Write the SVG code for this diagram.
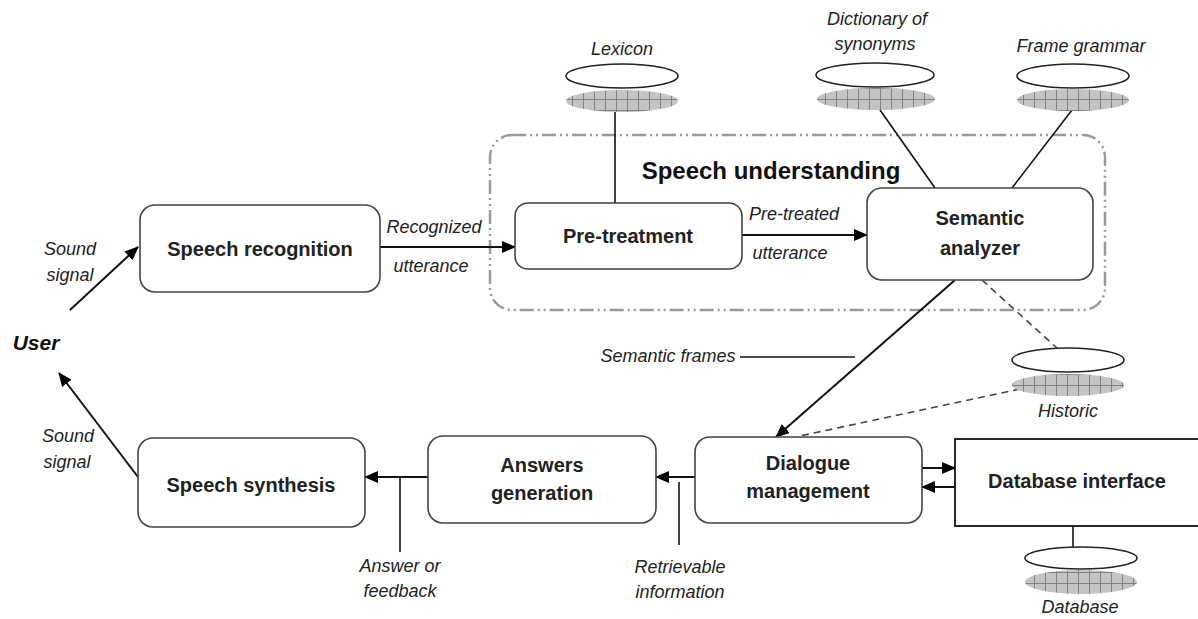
<svg xmlns="http://www.w3.org/2000/svg" width="1198" height="619" viewBox="0 0 1198 619">
<defs>
<pattern id="grid" width="11" height="11" patternUnits="userSpaceOnUse">
<rect width="11" height="11" fill="#c4c4c4"/>
<path d="M0 0.5H11M0.5 0V11" stroke="#7a7a7a" stroke-width="0.9"/>
</pattern>
<marker id="ah" markerWidth="14" markerHeight="12" refX="13" refY="6" orient="auto" markerUnits="userSpaceOnUse">
<path d="M0 0L14 6L0 12Z" fill="#000"/>
</marker>
</defs>
<style>
.box{fill:#fff;stroke:#444;stroke-width:1.6}
.lbl{font-family:"Liberation Sans",Arial,sans-serif;font-weight:bold;font-size:20px;fill:#222;text-anchor:middle}
.it{font-family:"Liberation Sans",Arial,sans-serif;font-style:italic;font-size:18px;fill:#222;text-anchor:middle}
.ln{stroke:#111;stroke-width:1.6;fill:none}
.arr{stroke:#111;stroke-width:2;fill:none;marker-end:url(#ah)}
.dash{stroke:#444;stroke-width:1.6;fill:none;stroke-dasharray:7 5}
.etop{fill:#fff;stroke:#222;stroke-width:1.6}
.ebot{fill:url(#grid);stroke:none}
</style>

<g id="speech-understanding">
<rect x="490" y="135" width="615" height="175" rx="22" fill="none" stroke="#999" stroke-width="2.5" stroke-dasharray="14 4 2 4 2 4"/>
<text x="771" y="179" font-family="'Liberation Sans',Arial,sans-serif" font-weight="bold" font-size="24" fill="#111" text-anchor="middle">Speech understanding</text>
</g>

<g id="connectors">
<line class="arr" x1="70" y1="310" x2="138" y2="247"/>
<line class="arr" x1="138" y1="477" x2="59" y2="373"/>
<line class="arr" x1="380" y1="247" x2="515" y2="247"/>
<line class="arr" x1="742" y1="235" x2="867" y2="235"/>
<line class="ln" x1="615" y1="112" x2="615" y2="203" stroke-width="1.3"/>
<line class="ln" x1="880" y1="110" x2="935" y2="188" stroke-width="1.3"/>
<line class="ln" x1="1072" y1="110" x2="1012" y2="188" stroke-width="1.3"/>
<line class="arr" x1="955" y1="280" x2="776" y2="437"/>
<line class="ln" x1="740" y1="357" x2="855" y2="357" stroke-width="1.3"/>
<line class="dash" x1="982" y1="280" x2="1058" y2="349"/>
<line class="dash" x1="1020" y1="389" x2="800" y2="436"/>
<line class="arr" x1="922" y1="468" x2="955" y2="468"/>
<line class="arr" x1="955" y1="487" x2="922" y2="487"/>
<line class="ln" x1="1073" y1="526" x2="1073" y2="547" stroke="#555" stroke-width="1.3"/>
<line class="arr" x1="695" y1="477" x2="656" y2="477"/>
<line class="ln" x1="679" y1="482" x2="679" y2="545" stroke-width="1.3"/>
<line class="arr" x1="428" y1="477" x2="365" y2="477"/>
<line class="ln" x1="400" y1="477" x2="400" y2="552" stroke-width="1.3"/>
</g>

<g id="user">
<text x="36" y="350" font-family="'Liberation Sans',Arial,sans-serif" font-weight="bold" font-style="italic" font-size="21" fill="#111" text-anchor="middle">User</text>
</g>
<g id="label-sound-in">
<text class="it" x="70" y="255">Sound</text>
<text class="it" x="70" y="281">signal</text>
</g>
<g id="label-sound-out">
<text class="it" x="68" y="442">Sound</text>
<text class="it" x="67" y="468">signal</text>
</g>

<g id="speech-recognition">
<rect class="box" x="140" y="205" width="240" height="87" rx="15"/>
<text class="lbl" x="260" y="256">Speech recognition</text>
</g>
<g id="label-recognized">
<text class="it" x="434" y="233">Recognized</text>
<text class="it" x="431" y="272">utterance</text>
</g>

<g id="pre-treatment">
<rect class="box" x="515" y="203" width="227" height="66" rx="13"/>
<text class="lbl" x="628" y="243">Pre-treatment</text>
</g>
<g id="label-pretreated">
<text class="it" x="794" y="220">Pre-treated</text>
<text class="it" x="790" y="259">utterance</text>
</g>

<g id="semantic-analyzer">
<rect class="box" x="867" y="188" width="226" height="92" rx="15"/>
<text class="lbl" x="980" y="225">Semantic</text>
<text class="lbl" x="980" y="255">analyzer</text>
</g>

<g id="lexicon">
<text class="it" x="622" y="55">Lexicon</text>
<ellipse class="ebot" cx="622" cy="101" rx="56" ry="11"/>
<ellipse class="etop" cx="622" cy="76" rx="56" ry="12"/>
</g>

<g id="dictionary">
<text class="it" x="877" y="25">Dictionary of</text>
<text class="it" x="875" y="50">synonyms</text>
<ellipse class="ebot" cx="876" cy="99" rx="59" ry="11"/>
<ellipse class="etop" cx="875" cy="75" rx="59" ry="12"/>
</g>

<g id="frame-grammar">
<text class="it" x="1081" y="52">Frame grammar</text>
<ellipse class="ebot" cx="1073" cy="100" rx="56" ry="11"/>
<ellipse class="etop" cx="1073" cy="76" rx="56" ry="12"/>
</g>

<g id="semantic-frames-label">
<text class="it" x="668" y="362">Semantic frames</text>
</g>

<g id="historic">
<ellipse class="ebot" cx="1068" cy="385" rx="56" ry="11"/>
<ellipse class="etop" cx="1068" cy="360" rx="56" ry="12"/>
<text class="it" x="1068" y="417">Historic</text>
</g>

<g id="speech-synthesis">
<rect class="box" x="138" y="438" width="227" height="89" rx="15"/>
<text class="lbl" x="251" y="492">Speech synthesis</text>
</g>

<g id="answers-generation">
<rect class="box" x="428" y="436" width="228" height="87" rx="15"/>
<text class="lbl" x="542" y="472">Answers</text>
<text class="lbl" x="542" y="500">generation</text>
</g>
<g id="label-answer">
<text class="it" x="400" y="572">Answer or</text>
<text class="it" x="400" y="597">feedback</text>
</g>

<g id="dialogue-management">
<rect class="box" x="695" y="437" width="227" height="86" rx="15"/>
<text class="lbl" x="808" y="470">Dialogue</text>
<text class="lbl" x="808" y="498">management</text>
</g>
<g id="label-retrievable">
<text class="it" x="680" y="573">Retrievable</text>
<text class="it" x="680" y="598">information</text>
</g>

<g id="database-interface">
<rect x="955" y="439" width="250" height="87" fill="#fff" stroke="#111" stroke-width="1.8"/>
<text class="lbl" x="1077" y="488">Database interface</text>
</g>

<g id="database">
<ellipse class="ebot" cx="1081" cy="582" rx="56" ry="12"/>
<ellipse class="etop" cx="1081" cy="558" rx="56" ry="11"/>
<text class="it" x="1080" y="613">Database</text>
</g>
</svg>
